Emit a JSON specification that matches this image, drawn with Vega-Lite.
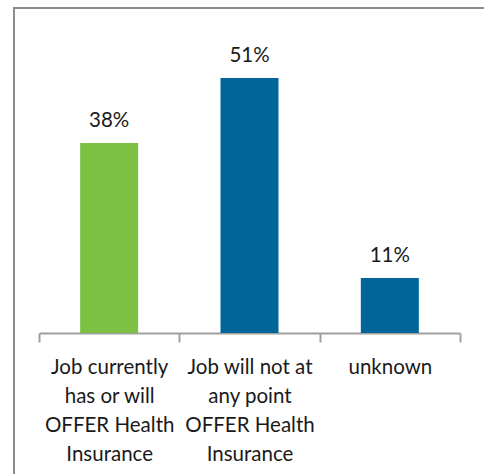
{
  "$schema": "https://vega.github.io/schema/vega-lite/v6.json",
  "autosize": "none",
  "padding": {"left": 14, "top": 8, "right": 0, "bottom": 0},
  "width": 470,
  "height": 466,
  "background": "white",
  "config": {
    "view": {"stroke": "#8c8c8c", "strokeWidth": 2, "strokeDash": [470, 936, 466]},
    "font": "Lato"
  },
  "data": {
    "values": [
      {"cat": "Job currently|has or will|OFFER Health|Insurance", "pct": 0.38},
      {"cat": "Job will not at|any point|OFFER Health|Insurance", "pct": 0.51},
      {"cat": "unknown", "pct": 0.11}
    ]
  },
  "encoding": {
    "x": {
      "field": "cat",
      "type": "nominal",
      "sort": null,
      "scale": {"range": [25, 446], "paddingInner": 0, "paddingOuter": 0},
      "axis": {
        "title": null,
        "orient": "bottom",
        "offset": -141,
        "tickBand": "extent",
        "domainColor": "#a0a0a0",
        "domainWidth": 2,
        "tickColor": "#a0a0a0",
        "tickWidth": 2,
        "tickSize": 9,
        "labelAngle": 0,
        "labelFont": "Lato",
        "labelFontSize": 20.5,
        "labelColor": "#1a1a1a",
        "labelLimit": 0,
        "labelOverlap": false,
        "labelPadding": 15,
        "labelLineHeight": 29,
        "labelExpr": "split(datum.label, '|')"
      }
    },
    "y": {
      "field": "pct",
      "type": "quantitative",
      "scale": {"domain": [-0.282, 0.65], "nice": false, "zero": false},
      "axis": null
    }
  },
  "layer": [
    {
      "mark": {"type": "bar", "size": 58},
      "encoding": {
        "y2": {"datum": 0},
        "color": {
          "field": "cat",
          "type": "nominal",
          "sort": null,
          "scale": {"range": ["#7CC144", "#00669A", "#00669A"]},
          "legend": null
        }
      }
    },
    {
      "mark": {"type": "text", "dy": -16, "baseline": "alphabetic", "align": "center", "font": "Lato", "fontSize": 20.5, "color": "#1a1a1a"},
      "encoding": {
        "text": {"field": "pct", "type": "quantitative", "format": ".0%"}
      }
    }
  ]
}
